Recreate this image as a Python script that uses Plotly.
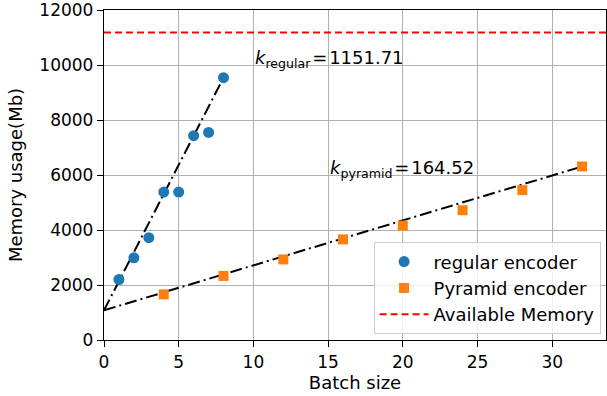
import plotly.graph_objects as go

# ---- data ----
batch_regular = [1, 2, 3, 4, 5, 6, 7, 8]
mem_regular = [2200, 2990, 3720, 5380, 5380, 7430, 7550, 9540]
batch_pyramid = [4, 8, 12, 16, 20, 24, 28, 32]
mem_pyramid = [1660, 2330, 2930, 3660, 4160, 4720, 5450, 6310]
available_memory = 11180
fit_regular_x = [0, 8]
fit_regular_y = [1080, 9540]
fit_pyramid_x = [0, 32]
fit_pyramid_y = [1080, 6310]
k_regular = 1151.71
k_pyramid = 164.52
x_ticks = [0, 5, 10, 15, 20, 25, 30]
y_ticks = [0, 2000, 4000, 6000, 8000, 10000, 12000]
x_range = [0, 33.6]
y_range = [0, 12000]

FONT = "DejaVu Sans"
fig = go.Figure()

dashdot = "12px,4px,2px,4px"
fig.add_trace(go.Scatter(
    x=fit_regular_x, y=fit_regular_y, mode="lines", showlegend=False,
    line=dict(color="black", width=2, dash=dashdot)))
fig.add_trace(go.Scatter(
    x=fit_pyramid_x, y=fit_pyramid_y, mode="lines", showlegend=False,
    line=dict(color="black", width=2, dash=dashdot)))
fig.add_trace(go.Scatter(
    x=batch_regular, y=mem_regular, mode="markers", name="regular encoder",
    marker=dict(symbol="circle", size=11, color="#1f77b4", line=dict(width=0))))
fig.add_trace(go.Scatter(
    x=batch_pyramid, y=mem_pyramid, mode="markers", name="Pyramid encoder",
    marker=dict(symbol="square", size=10, color="#ff7f0e", line=dict(width=0))))
fig.add_trace(go.Scatter(
    x=x_range, y=[available_memory, available_memory], mode="lines",
    name="Available Memory",
    line=dict(color="#ff0000", width=2, dash="7px,4px")))

fig.add_annotation(x=10, y=10000, xref="x", yref="y", xanchor="left",
                   yanchor="middle", yshift=6, showarrow=False,
                   text=f"<i>k</i><sub>regular</sub>\u200a=\u200a{k_regular:.2f}",
                   font=dict(family=FONT, size=18, color="black"))
fig.add_annotation(x=15, y=6000, xref="x", yref="y", xanchor="left",
                   yanchor="middle", yshift=6, showarrow=False,
                   text=f"<i>k</i><sub>pyramid</sub>\u200a=\u200a{k_pyramid:.2f}",
                   font=dict(family=FONT, size=18, color="black"))

axis_common = dict(
    showgrid=True, gridcolor="#b0b0b0", gridwidth=1.3, zeroline=False,
    showline=True, linecolor="black", linewidth=1.3, mirror=True,
    ticks="outside", ticklen=6, tickwidth=1.3, tickcolor="black",
    tickfont=dict(family=FONT, size=17, color="black"),
    ticklabeloverflow="allow",
)
fig.update_xaxes(range=x_range, tickvals=x_ticks, ticktext=[str(v) for v in x_ticks],
                 title=dict(text="Batch size", font=dict(family=FONT, size=18, color="black"), standoff=4),
                 **axis_common)
fig.update_yaxes(range=y_range, tickvals=y_ticks, ticktext=[str(v) for v in y_ticks],
                 title=dict(text="Memory usage(Mb)", font=dict(family=FONT, size=18, color="black"), standoff=12),
                 **axis_common)

fig.update_layout(
    width=607, height=396,
    margin=dict(l=104, r=0, t=8, b=56),
    paper_bgcolor="white", plot_bgcolor="white",
    font=dict(family=FONT, size=18, color="black"),
    legend=dict(x=0.537, y=0.296, xanchor="left", yanchor="top",
                bgcolor="rgba(255,255,255,0.8)", bordercolor="#cccccc", borderwidth=1,
                font=dict(family=FONT, size=18, color="black"),
                itemwidth=49, tracegroupgap=0),
)

fig.write_html("out.html")
